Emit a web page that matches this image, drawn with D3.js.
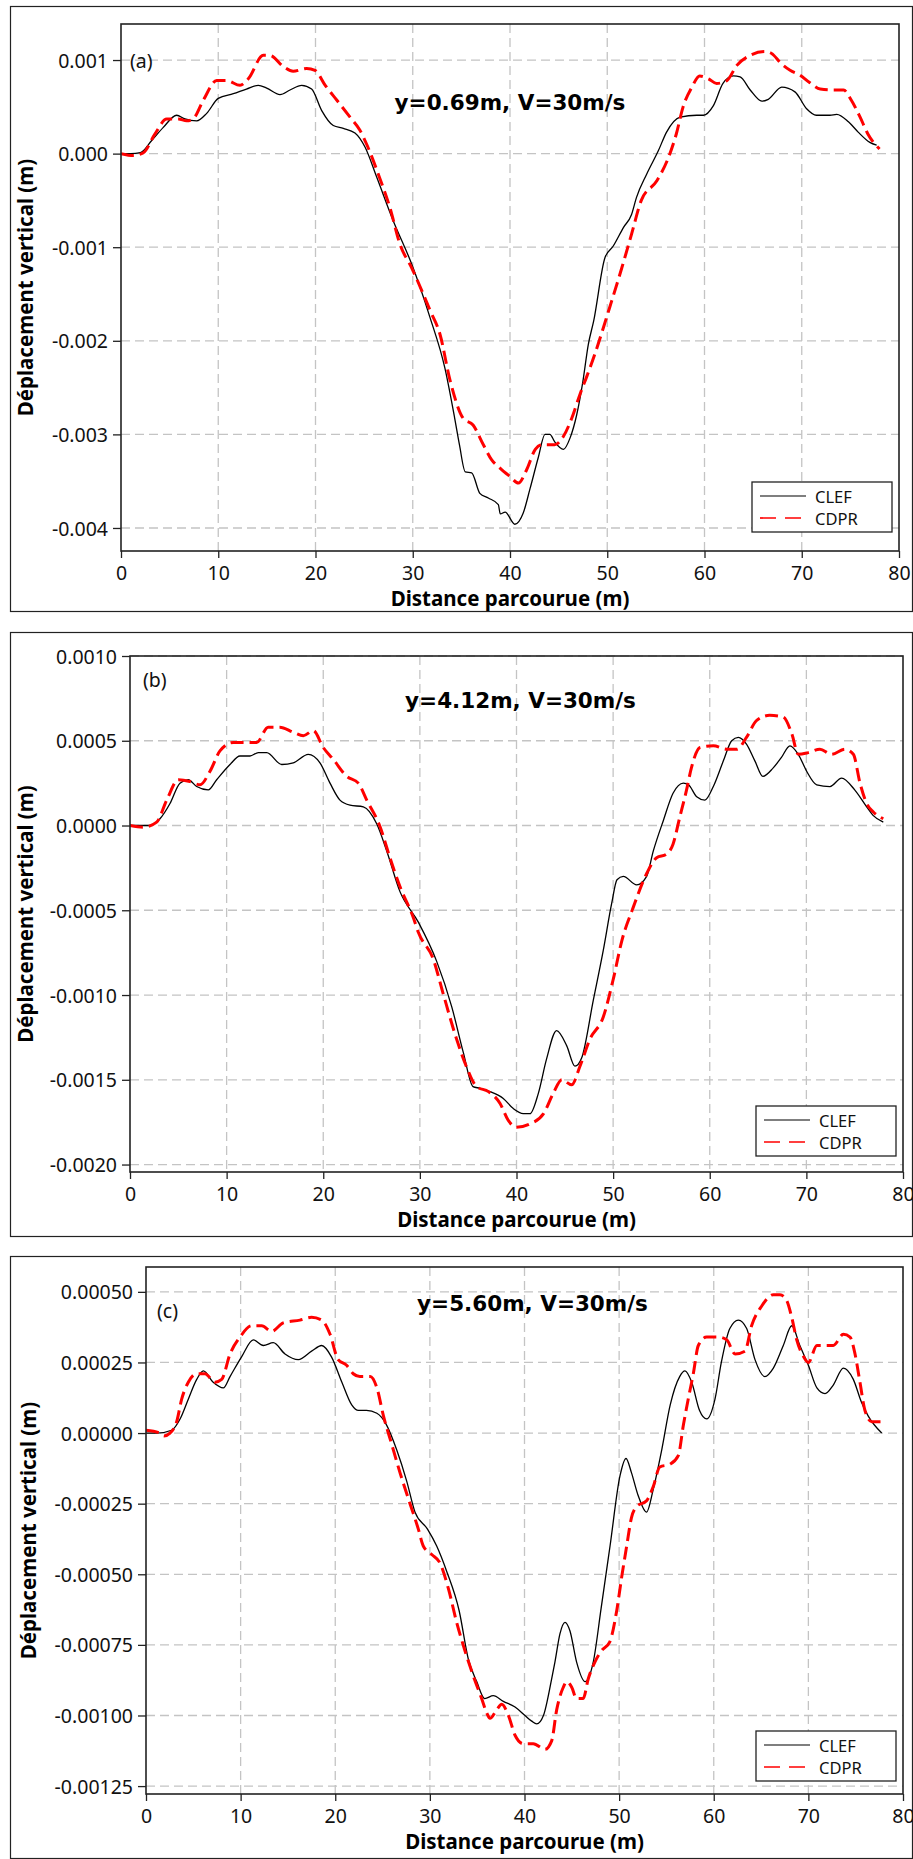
<!DOCTYPE html>
<html>
<head>
<meta charset="utf-8">
<script src="https://cdn.jsdelivr.net/npm/d3@7"></script>
<style>
  html, body { margin: 0; padding: 0; background: #fff; }
  svg { display: block; }
</style>
</head>
<body>
<svg id="chart" width="913" height="1859"></svg>
<script>
// ---- data (x in m, displacement in m) ----
const xTicks = [0, 10, 20, 30, 40, 50, 60, 70, 80];
const yTicksA = [-0.004, -0.003, -0.002, -0.001, 0, 0.001];
const yTicksB = [-0.002, -0.0015, -0.001, -0.0005, 0, 0.0005, 0.001];
const yTicksC = [-0.00125, -0.001, -0.00075, -0.0005, -0.00025, 0, 0.00025, 0.0005];

const seriesNames = ["CLEF", "CDPR"];
const panelLabels = ["(a)", "(b)", "(c)"];
const panelTitles = ["y=0.69m, V=30m/s", "y=4.12m, V=30m/s", "y=5.60m, V=30m/s"];
const xTitle = "Distance parcourue (m)";
const yTitle = "Déplacement vertical (m)";

const clefA = [[0,0],[1,0],[2,0.00001],[3.16,0.00014],[4.35,0.00028],[5.72,0.00041],[6.58,0.00037],[7.78,0.00035],[8.81,0.00043],[10,0.00059],[11.55,0.00064],[12.9,0.00069],[14.12,0.00073],[14.98,0.0007],[16.35,0.00063],[17.38,0.00068],[18.58,0.00073],[19.6,0.00069],[20.64,0.00046],[21.83,0.0003],[22.86,0.00027],[24.06,0.00022],[25.09,0.00007],[26.29,-0.00025],[28,-0.00072],[29.89,-0.00118],[31.77,-0.00175],[33.3,-0.00229],[34.3,-0.00282],[34.8,-0.00311],[35.4,-0.0034],[36.06,-0.00341],[36.9,-0.00363],[37.77,-0.00368],[38.8,-0.00375],[39,-0.00385],[39.5,-0.00383],[40.5,-0.00396],[41.36,-0.00384],[42.06,-0.00358],[42.9,-0.00325],[43.6,-0.003],[44.1,-0.003],[44.6,-0.00308],[45.5,-0.00316],[46.17,-0.00304],[46.86,-0.00279],[47.5,-0.00243],[48.05,-0.00204],[48.6,-0.00179],[49.77,-0.00111],[50.6,-0.00099],[51.66,-0.00079],[52.5,-0.00065],[53,-0.00047],[54.05,-0.00022],[55.25,0.00003],[56.1,0.00023],[57.5,0.00039],[59.2,0.00041],[59.9,0.00041],[60.9,0.00051],[61.9,0.00075],[62.97,0.00083],[63.66,0.00082],[64.7,0.00068],[65.9,0.00056],[66.56,0.00058],[67.94,0.00071],[69.3,0.00066],[70.5,0.00048],[71.5,0.00041],[72.9,0.00041],[73.6,0.00042],[74.8,0.00034],[75.8,0.00023],[77,0.00012],[77.7,0.00009]];
const cdprA = [[0,0],[1.27,-0.00002],[2.3,0.00001],[3.5,0.00021],[4.7,0.00037],[5.9,0.00037],[6.75,0.00035],[7.4,0.00037],[8.46,0.00057],[9.84,0.00078],[10.87,0.00078],[12.24,0.00073],[13.09,0.0008],[14.63,0.00105],[15.3,0.00105],[16.7,0.00093],[17.7,0.00088],[19.1,0.00091],[19.95,0.00089],[21,0.00073],[22.2,0.00057],[23.55,0.00039],[24.57,0.00025],[25.26,0.0001],[26.46,-0.00022],[27.66,-0.00058],[28.69,-0.00097],[29.89,-0.00122],[31.8,-0.00168],[32.8,-0.00193],[33.83,-0.00242],[35.2,-0.00283],[36.2,-0.0029],[37.26,-0.00311],[38.1,-0.00327],[38.97,-0.00336],[40,-0.00345],[40.86,-0.00352],[41.7,-0.00338],[42.6,-0.00316],[43.3,-0.00311],[44.6,-0.00311],[45.5,-0.00302],[46.34,-0.00283],[47.2,-0.00257],[47.9,-0.00238],[48.7,-0.00215],[49.6,-0.00186],[50.2,-0.00166],[51.5,-0.00122],[52.5,-0.00086],[53.5,-0.0005],[55.1,-0.00029],[56.3,-0.00004],[57.1,0.00021],[57.8,0.0005],[58.7,0.00071],[59.5,0.00083],[60.4,0.0008],[61.25,0.00075],[62.3,0.00078],[63.3,0.00094],[64.7,0.00105],[66.2,0.00109],[66.9,0.00107],[67.9,0.00096],[68.8,0.00089],[69.8,0.00084],[70.8,0.00076],[71.9,0.00069],[73.2,0.00068],[74.3,0.00068],[75.1,0.00057],[76,0.00039],[76.8,0.00021],[78,0.00005]];

const clefB = [[0,0],[2.07,0],[3.1,0.00004],[4.14,0.00013],[5.17,0.00025],[6.03,0.00027],[6.9,0.00023],[8.1,0.00021],[8.97,0.00027],[10.35,0.00036],[11.38,0.00041],[12.42,0.00041],[13.28,0.00043],[14.15,0.00043],[15.7,0.00036],[16.9,0.00037],[18.45,0.00042],[19.66,0.00037],[20.7,0.00025],[21.73,0.00015],[22.77,0.00012],[24.15,0.00011],[25.53,0.00001],[26.57,-0.00015],[27.94,-0.00039],[29.84,-0.00057],[31.73,-0.0008],[33.3,-0.00107],[34.5,-0.00134],[35.5,-0.00154],[36.2,-0.00155],[37.26,-0.00157],[38.63,-0.00161],[39.67,-0.00167],[40.7,-0.0017],[41.4,-0.0017],[42.26,-0.00158],[43.1,-0.00138],[44.15,-0.00121],[45.2,-0.0013],[46.05,-0.00142],[46.75,-0.00137],[47.95,-0.00103],[48.97,-0.00074],[49.85,-0.00046],[50.4,-0.00032],[51.05,-0.0003],[52.44,-0.00035],[53.47,-0.0003],[54.16,-0.00015],[55.2,0.00003],[56.2,0.00019],[57.27,0.00025],[57.8,0.00024],[58.65,0.00017],[59.5,0.00015],[60.37,0.00023],[61.4,0.00038],[62.27,0.0005],[62.96,0.00052],[63.8,0.00048],[64.68,0.00038],[65.5,0.00029],[66.57,0.00034],[67.4,0.0004],[68.3,0.00047],[69.16,0.00042],[70.03,0.00032],[71.07,0.00024],[72.44,0.00023],[73.65,0.00028],[75,0.00021],[76.24,0.00011],[76.9,0.00006],[77.96,0.00002]];
const cdprB = [[0,0],[1.38,-0.00001],[2.76,0.00002],[3.8,0.00015],[5,0.00027],[6.2,0.00026],[7.24,0.00024],[8.28,0.00032],[9.31,0.00044],[10.7,0.00049],[11.9,0.00049],[13.1,0.00049],[14.3,0.00058],[15.5,0.00058],[16.9,0.00055],[17.94,0.00053],[18.97,0.00056],[20,0.00046],[21.04,0.00039],[22.43,0.00029],[23.63,0.00025],[24.5,0.00015],[25.9,-0.00001],[26.9,-0.00019],[27.94,-0.00036],[29.3,-0.00054],[29.84,-0.00063],[31.4,-0.00079],[32.4,-0.00099],[33.8,-0.00126],[34.8,-0.00142],[35.87,-0.00154],[37.1,-0.00157],[38.3,-0.00164],[39.15,-0.00174],[40,-0.00178],[41.4,-0.00176],[42.8,-0.0017],[43.8,-0.00158],[44.7,-0.0015],[45.7,-0.00153],[46.57,-0.00142],[47.6,-0.00126],[48.98,-0.00113],[50,-0.00091],[50.9,-0.00068],[52.1,-0.00048],[53.5,-0.00028],[54.5,-0.00019],[55.5,-0.00017],[56.2,-0.00011],[56.9,0.00005],[57.6,0.00021],[58.1,0.00034],[59,0.00046],[60.37,0.00047],[61.75,0.00045],[62.8,0.00045],[63.8,0.00052],[64.86,0.00062],[66.2,0.00065],[67.6,0.00064],[68.5,0.00054],[69.16,0.00042],[70.2,0.00043],[71.4,0.00045],[72.6,0.00042],[74,0.00045],[74.86,0.00042],[75.55,0.00025],[76.24,0.00013],[76.93,0.00008],[77.96,0.00004]];

const clefC = [[0,0],[1.2,0],[2.7,0.00001],[3.6,0.00005],[4.47,0.00012],[5.36,0.00019],[6.06,0.00022],[7.1,0.00018],[8.17,0.00016],[8.88,0.0002],[10.1,0.00027],[11.34,0.00033],[12.4,0.00031],[13.45,0.00032],[14.69,0.00028],[16.1,0.00026],[17.5,0.00029],[18.57,0.00031],[19.6,0.00027],[20.7,0.00018],[21.74,0.0001],[22.44,0.00008],[23.3,0.00008],[24.4,0.00007],[25.4,0.00003],[26.5,-0.00006],[27.55,-0.00017],[28.43,-0.00028],[29.75,-0.00034],[30.72,-0.0004],[31.78,-0.00049],[33.1,-0.00063],[34.06,-0.0008],[34.95,-0.00088],[35.8,-0.00094],[36.7,-0.00093],[37.76,-0.00095],[39,-0.00097],[40.05,-0.001],[40.76,-0.00102],[41.29,-0.00103],[42,-0.001],[42.87,-0.00087],[43.22,-0.00081],[43.75,-0.00071],[44.28,-0.00067],[44.8,-0.0007],[45.5,-0.00081],[46.4,-0.00088],[47.27,-0.00081],[48.1,-0.00062],[49.04,-0.0004],[50.1,-0.00015],[50.73,-0.00009],[51.3,-0.00014],[52,-0.00022],[52.9,-0.00028],[53.6,-0.0002],[54.5,-0.00006],[55.4,0.0001],[56.4,0.0002],[56.96,0.00022],[57.67,0.00018],[58.5,0.00008],[59.26,0.00005],[60.13,0.00012],[60.8,0.00025],[61.7,0.00037],[62.6,0.0004],[63.48,0.00037],[64.36,0.00026],[65.4,0.0002],[66.3,0.00023],[67.35,0.00031],[68.24,0.00038],[69.1,0.00031],[70,0.00024],[70.9,0.00016],[71.76,0.00014],[72.63,0.00017],[73.7,0.00023],[74.75,0.00019],[75.6,0.00011],[76.33,0.00006],[77.75,0]];
const cdprC = [[0,0.00001],[1.48,0],[1.9,-0.00001],[2.54,0],[3.24,0.00004],[3.77,0.00012],[4.47,0.00018],[5.36,0.00021],[6.23,0.00021],[7.29,0.00018],[8,0.00019],[8.88,0.00028],[9.93,0.00034],[11.17,0.00038],[12.23,0.00038],[13.28,0.00036],[14.5,0.00039],[16.27,0.0004],[17.5,0.00041],[18.57,0.0004],[19.45,0.00035],[20.3,0.00026],[21.2,0.00024],[21.9,0.00021],[22.6,0.0002],[23.7,0.0002],[24.4,0.00016],[25.1,0.00006],[25.97,-0.00004],[26.84,-0.00014],[27.9,-0.00025],[28.78,-0.00034],[29.3,-0.0004],[30.2,-0.00043],[31.07,-0.00046],[31.95,-0.00055],[32.83,-0.00067],[33.7,-0.00077],[34.59,-0.00086],[35.47,-0.00094],[36,-0.00099],[36.35,-0.00101],[37.06,-0.00098],[37.59,-0.00096],[38.3,-0.001],[39,-0.00107],[39.87,-0.0011],[40.93,-0.0011],[42.17,-0.00112],[42.87,-0.00109],[43.4,-0.00098],[44.1,-0.0009],[44.46,-0.00088],[44.99,-0.0009],[45.5,-0.00094],[46.2,-0.00094],[46.74,-0.00087],[47.45,-0.00081],[48.16,-0.00077],[49,-0.00074],[49.74,-0.00063],[50.27,-0.00051],[50.8,-0.0004],[51.3,-0.0003],[51.86,-0.00026],[52.9,-0.00024],[53.6,-0.00019],[54.3,-0.00012],[55.4,-0.00011],[56.25,-0.00008],[56.8,0.00003],[57.3,0.00012],[57.84,0.00021],[58.37,0.00031],[59.25,0.00034],[60.48,0.00034],[61.37,0.00033],[62.25,0.00028],[63.3,0.00029],[64,0.00038],[65.07,0.00045],[66.3,0.00049],[67,0.00049],[67.7,0.00047],[68.24,0.00041],[68.77,0.00033],[69.5,0.00027],[70,0.00025],[70.9,0.00031],[71.76,0.00031],[72.63,0.00031],[73.7,0.00035],[74.4,0.00034],[74.93,0.00028],[75.45,0.00018],[75.98,0.00008],[76.7,0.00004],[77.75,0.00004]];

// ---- layout (pixels) ----
const panels = [
  { frame: [10, 6, 912, 611],     plot: [121, 24, 899, 551],    yDomain: [-0.004246, 0.001385], yTicks: yTicksA, fmt: ".3f",
    clef: clefA, cdpr: cdprA, labelPos: [9, 44],  titleDx: 0,   titleDy: 86, legendBottom: 19, yTitleX: 33 },
  { frame: [10, 632, 912, 1236],  plot: [130, 656, 903, 1172],  yDomain: [-0.002044, 0.001],    yTicks: yTicksB, fmt: ".4f",
    clef: clefB, cdpr: cdprB, labelPos: [13, 31], titleDx: 4,   titleDy: 52, legendBottom: 16, yTitleX: 33 },
  { frame: [10, 1256, 912, 1858], plot: [146, 1267, 903, 1794], yDomain: [-0.001278, 0.000588], yTicks: yTicksC, fmt: ".5f",
    clef: clefC, cdpr: cdprC, labelPos: [11, 51], titleDx: 8,   titleDy: 44, legendBottom: 13, yTitleX: 36 }
];

const locale = d3.formatLocale({ decimal: ".", thousands: ",", grouping: [3], currency: ["", ""], minus: "-" });
const FONT = "'Noto Sans', 'DejaVu Sans', sans-serif";

const svg = d3.select("#chart");
svg.append("rect").attr("width", 913).attr("height", 1859).attr("fill", "#fff");

panels.forEach(function(p, i) {
  const [l, t, r, b] = p.plot;
  const g = svg.append("g");

  // outer frame
  g.append("rect")
    .attr("x", p.frame[0] + 0.5).attr("y", p.frame[1] + 0.5)
    .attr("width", p.frame[2] - p.frame[0]).attr("height", p.frame[3] - p.frame[1])
    .attr("fill", "none").attr("stroke", "#222").attr("stroke-width", 1.2);

  const x = d3.scaleLinear().domain([0, 80]).range([l, r]);
  const y = d3.scaleLinear().domain(p.yDomain).range([b, t]);

  // grid
  const grid = g.append("g").attr("stroke", "#c4c4c4").attr("stroke-width", 1.3)
    .attr("stroke-dasharray", "9,5").attr("fill", "none");
  grid.selectAll("line.gx").data(xTicks.filter(v => v > 0 && v < 80)).enter().append("line")
    .attr("x1", d => x(d)).attr("x2", d => x(d)).attr("y1", t).attr("y2", b);
  grid.selectAll("line.gy").data(p.yTicks).enter().append("line")
    .attr("x1", l).attr("x2", r).attr("y1", d => y(d)).attr("y2", d => y(d));

  // curves
  const clipId = "clip" + i;
  g.append("clipPath").attr("id", clipId).append("rect")
    .attr("x", l).attr("y", t).attr("width", r - l).attr("height", b - t);

  const line = d3.line().x(d => x(d[0])).y(d => y(d[1])).curve(d3.curveMonotoneX);

  const curves = g.append("g").attr("clip-path", "url(#" + clipId + ")");
  curves.append("path").datum(p.clef).attr("d", line)
    .attr("fill", "none").attr("stroke", "#000").attr("stroke-width", 1.3);
  curves.append("path").datum(p.cdpr).attr("d", line)
    .attr("fill", "none").attr("stroke", "#ff0000").attr("stroke-width", 3)
    .attr("stroke-dasharray", "13,6");

  // plot frame
  g.append("rect").attr("x", l).attr("y", t).attr("width", r - l).attr("height", b - t)
    .attr("fill", "none").attr("stroke", "#222").attr("stroke-width", 1.6);

  // axes
  const xAxis = g.append("g").attr("transform", "translate(0," + b + ")")
    .call(d3.axisBottom(x).tickValues(xTicks).tickFormat(d3.format("d")).tickSize(7).tickSizeOuter(0));
  const yAxis = g.append("g").attr("transform", "translate(" + l + ",0)")
    .call(d3.axisLeft(y).tickValues(p.yTicks).tickFormat(locale.format(p.fmt)).tickSize(8).tickPadding(5).tickSizeOuter(0));
  [xAxis, yAxis].forEach(function(ax) {
    ax.select(".domain").remove();
    ax.selectAll(".tick line").attr("stroke", "#222").attr("stroke-width", 1.3);
    ax.selectAll("text").attr("font-family", FONT).attr("font-size", 19.5).attr("fill", "#111");
  });
  xAxis.selectAll("text").attr("y", 29).attr("dy", 0);
  yAxis.selectAll("text").attr("dy", "0.36em");

  // axis titles
  g.append("text").attr("x", (l + r) / 2).attr("y", b + 55)
    .attr("text-anchor", "middle").attr("font-family", FONT).attr("font-weight", "bold")
    .attr("font-size", 20.5).text(xTitle);
  g.append("text")
    .attr("transform", "translate(" + p.yTitleX + "," + (t + b) / 2 + ") rotate(-90)")
    .attr("text-anchor", "middle").attr("font-family", FONT).attr("font-weight", "bold")
    .attr("font-size", 20.5).text(yTitle);

  // panel label and title
  g.append("text").attr("x", l + p.labelPos[0]).attr("y", t + p.labelPos[1])
    .attr("font-family", FONT).attr("font-size", 19.5).attr("fill", "#111").text(panelLabels[i]);
  g.append("text").attr("x", (l + r) / 2 + p.titleDx).attr("y", t + p.titleDy)
    .attr("text-anchor", "middle").attr("font-family", "'DejaVu Sans', sans-serif")
    .attr("font-weight", "bold").attr("font-size", 21.5).text(panelTitles[i]);

  // legend
  const lw = 140, lh = 50;
  const lx = r - 7 - lw, ly = b - p.legendBottom - lh;
  const leg = g.append("g").attr("transform", "translate(" + lx + "," + ly + ")");
  leg.append("rect").attr("width", lw).attr("height", lh)
    .attr("fill", "#fff").attr("stroke", "#222").attr("stroke-width", 1.3);
  seriesNames.forEach(function(name, k) {
    const yy = 14 + k * 22;
    leg.append("line").attr("x1", 8).attr("x2", k === 0 ? 54 : 52).attr("y1", yy).attr("y2", yy)
      .attr("stroke", k === 0 ? "#000" : "#ff0000")
      .attr("stroke-width", k === 0 ? 1.1 : 1.7)
      .attr("stroke-dasharray", k === 0 ? null : "16,9");
    leg.append("text").attr("x", 63).attr("y", yy + 6.5)
      .attr("font-family", FONT).attr("font-size", 16.5).attr("fill", "#111").text(name);
  });
});
</script>
</body>
</html>
